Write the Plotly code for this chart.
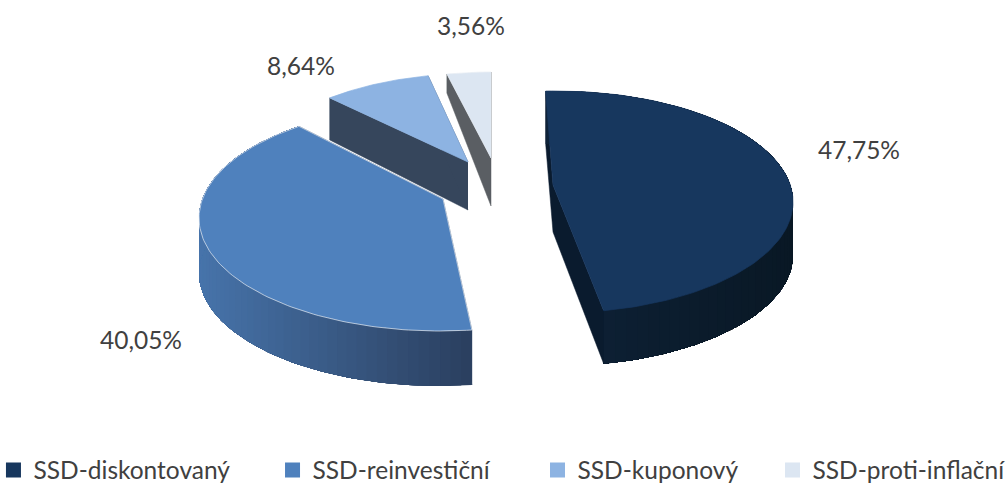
import numpy as np
import plotly.graph_objects as go

# ---- data ----
names = ["SSD-diskontovaný", "SSD-reinvestiční", "SSD-kuponový", "SSD-proti-inflační"]
shares = [47.75, 40.05, 8.64, 3.56]
labels = ["47,75%", "40,05%", "8,64%", "3,56%"]

# ---- styling / view geometry (pixel canvas of the pseudo-3D projection) ----
W, H = 1006, 483
face = ["#17375e", "#4f81bd", "#8db3e2", "#dce6f2"]
rim_from = ["#091825", "#4774ab", "#36465c", "#5a5e63"]
rim_to = ["#0e2238", "#2b4060", "#36465c", "#5a5e63"]
inner = ["#0a1b2e", "#2b4060", "#36465c", "#5a5e63"]
rotation = -2.5
ell_x = [556, 440, 468, 491]
ell_y = [202, 218, 206, 152]
ell_rx = [237, 241, 241, 199]
ell_ry = [111, 113, 132, 80]
apex_x = [553, 443, 468, 491]
apex_y = [185, 199, 162, 158]
skew_start = [0, 3, 11.4, 2.5]
skew_end = [-1, 10.6, 5.8, 2.5]
depth_rim = [53, 55, 42, 19]
depth_apex = [47, 55, 48, 48]
label_x = [859, 141, 301, 471]
label_y = [153, 343, 69, 29]
legend_x = [-0.0065, 0.2709, 0.5343, 0.7679]

fig = go.Figure()


def poly(xs, ys, color, line=None, width=0.5):
    fig.add_trace(go.Scatter(
        x=list(xs), y=list(ys), mode="lines", fill="toself", fillcolor=color,
        line=dict(color=line or color, width=width), hoverinfo="skip", showlegend=False,
    ))


def mix(a, b, f):
    ca = [int(a[i:i + 2], 16) for i in (1, 3, 5)]
    cb = [int(b[i:i + 2], 16) for i in (1, 3, 5)]
    return "#%02x%02x%02x" % tuple(round(p + (q - p) * f) for p, q in zip(ca, cb))


cum = np.concatenate([[0], np.cumsum(shares)]) * 3.6 * 100 / sum(shares)
for i in [3, 2, 1, 0]:
    t0 = cum[i] + rotation + skew_start[i]
    t1 = cum[i + 1] + rotation + skew_end[i]
    t = np.radians(np.linspace(t0, t1, 121))
    x = ell_x[i] + ell_rx[i] * np.sin(t)
    y = ell_y[i] - ell_ry[i] * np.cos(t)
    dr, da = depth_rim[i], depth_apex[i]
    ax, ay = apex_x[i], apex_y[i]

    # inner walls
    poly([ax, x[0], x[0], ax], [ay, y[0], y[0] + dr, ay + da], inner[i])
    poly([ax, x[-1], x[-1], ax], [ay, y[-1], y[-1] + dr, ay + da], inner[i])

    # outer wall with a horizontal gradient: overlapping bands painted in order
    if i < 2:
        xmin, xmax = (x.min(), x.max())
        for k in range(0, len(t) - 1, 2):
            xs = np.r_[x[k:], x[k:][::-1]]
            ys = np.r_[y[k:], (y[k:] + dr)[::-1]]
            f = (x[k] - xmin) / (xmax - xmin)
            poly(xs, ys, mix(rim_from[i], rim_to[i], f if i == 1 else 1 - f), width=0)

    # top face
    poly(np.r_[ax, x, ax], np.r_[ay, y, ay], face[i],
         line="#e6ecf3" if i in (1, 3) else face[i], width=0.7)

# data labels
for i in range(4):
    fig.add_trace(go.Scatter(
        x=[label_x[i]], y=[label_y[i]], mode="text", text=[labels[i]],
        textposition="middle center", hoverinfo="skip", showlegend=False,
        textfont=dict(family="Lato", size=24.5, color="#404040"),
    ))

# legend: one legend box per entry so each sits at its own position
layout_legends = {}
for i in range(4):
    key = "legend" if i == 0 else f"legend{i + 1}"
    fig.add_trace(go.Scatter(
        x=[None], y=[None], mode="markers", name=names[i], legend=key, showlegend=True,
        marker=dict(symbol="square", size=15, color=face[i]),
    ))
    layout_legends[key] = dict(
        x=legend_x[i], y=0.027, xanchor="left", yanchor="middle",
        bgcolor="rgba(0,0,0,0)", itemwidth=30,
        font=dict(family="Lato", size=24.5, color="#404040"),
    )

fig.update_layout(
    width=W, height=H, margin=dict(l=0, r=0, t=0, b=0, autoexpand=False),
    paper_bgcolor="white", plot_bgcolor="white",
    xaxis=dict(range=[0, W], visible=False, fixedrange=True),
    yaxis=dict(range=[H, 0], visible=False, fixedrange=True),
    **layout_legends,
)
fig.write_html("out.html", config={"displayModeBar": False},
               post_script="document.body.style.margin='0';document.body.style.overflow='hidden';")
